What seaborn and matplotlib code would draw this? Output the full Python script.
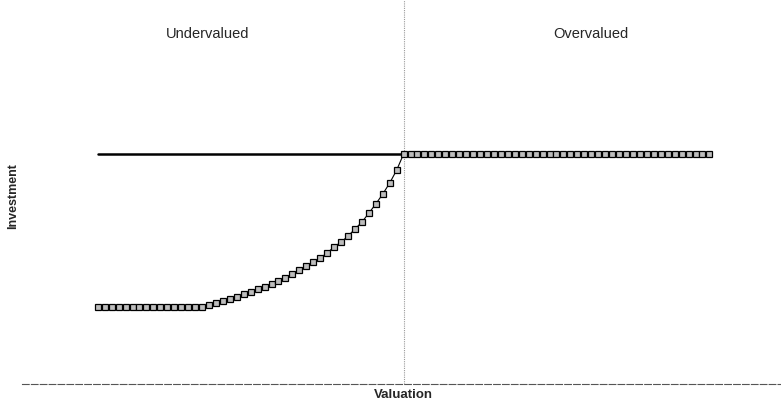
import numpy as np
import pandas as pd
import matplotlib
matplotlib.use('Agg')
import matplotlib.pyplot as plt
import seaborn as sns

# ── Data ─────────────────────────────────────────────
valuation = list(range(-44, 45))

investment_left = [33.5] * 16 + [
    34.3, 35.2, 36.1, 37.0, 37.8, 39.1, 40.0, 41.3, 42.2, 43.5,
    44.8, 46.1, 47.8, 49.6, 51.3, 53.0, 54.8, 57.0, 59.6, 61.7,
    64.3, 67.4, 70.4, 74.3, 78.3, 82.6, 87.4, 93.0, 100.0,
]
investment_right = [100.0] * 44
investment = investment_left + investment_right

benchmark_x = [-44, 0]
benchmark_y = [100.0, 100.0]

df = pd.DataFrame({'valuation': valuation, 'investment': investment})

# ── Plot ─────────────────────────────────────────────
sns.set_theme(style='white')
plt.rcParams['font.family'] = ['Liberation Sans', 'DejaVu Sans']

fig = plt.figure(figsize=(7.81, 4.05), dpi=100)
ax = fig.add_axes([22 / 781, 21 / 405, 1 - 22 / 781, 1 - 21 / 405])

ax.plot(benchmark_x, benchmark_y, color='black', linewidth=1.8, zorder=2)
ax.axvline(0, color='#9a9a9a', linewidth=0.8, linestyle=(0, (1, 1)), zorder=1)

sns.lineplot(data=df, x='valuation', y='investment', ax=ax,
             color='black', linewidth=0.8, marker='s', markersize=4,
             markerfacecolor='#bdbdbd', markeredgecolor='black',
             markeredgewidth=0.9, zorder=3)

ax.set_xlim(-54.9, 54.3)
ax.set_ylim(0, 167)

for side in ['top', 'right', 'left']:
    ax.spines[side].set_visible(False)
ax.spines['bottom'].set_color('#555555')
ax.spines['bottom'].set_linewidth(0.8)
ax.spines['bottom'].set_linestyle((0, (6, 2)))
ax.set_xticks([])
ax.set_yticks([])

ax.set_xlabel('Valuation', fontsize=9.5, fontweight='bold')
ax.set_ylabel('Investment', fontsize=9, fontweight='bold')
ax.xaxis.set_label_coords(0.503, -0.012)
ax.yaxis.set_label_coords(-0.004, 0.49)

ax.text(-28.2, 152, 'Undervalued', ha='center', va='center', fontsize=10.5)
ax.text(26.9, 152, 'Overvalued', ha='center', va='center', fontsize=10.5)

fig.savefig('out.png', dpi=100)
plt.close(fig)
